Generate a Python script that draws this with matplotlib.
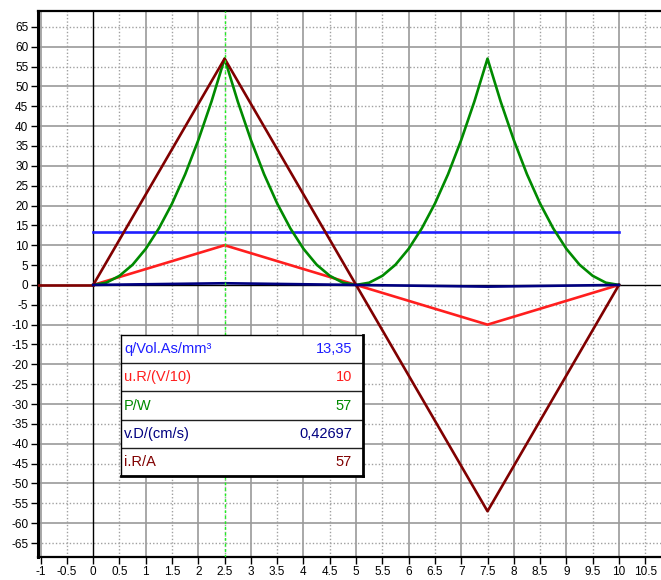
import matplotlib.pyplot as plt
from matplotlib.ticker import FixedLocator, FuncFormatter

plt.rcParams['font.family'] = ['Liberation Sans', 'DejaVu Sans']

# time axis breakpoints (one full period)
t_lin = [0, 2.5, 5, 7.5, 10]

# i.R/A : triangular current
i_R = [0, 57, 0, -57, 0]
# u.R/(V/10)
u_R = [0, 10, 0, -10, 0]
# v.D/(cm/s)
v_D = [0, 0.42697, 0, -0.42697, 0]
# q/Vol.As/mm³ (constant)
q_t = [0, 10]
q_vol = [13.35, 13.35]
# before t = 0 everything is at rest
t_rest = [-1.1, 0]
i_rest = [0, 0]

# P/W sampled every 0.25
t_p = [0, 0.25, 0.5, 0.75, 1.0, 1.25, 1.5, 1.75, 2.0, 2.25, 2.5,
       2.75, 3.0, 3.25, 3.5, 3.75, 4.0, 4.25, 4.5, 4.75, 5.0,
       5.25, 5.5, 5.75, 6.0, 6.25, 6.5, 6.75, 7.0, 7.25, 7.5,
       7.75, 8.0, 8.25, 8.5, 8.75, 9.0, 9.25, 9.5, 9.75, 10.0]
p_w = [0, 0.57, 2.3, 5.1, 9.1, 14.25, 20.5, 27.9, 36.5, 46.2, 57,
       46.2, 36.5, 27.9, 20.5, 14.25, 9.1, 5.1, 2.3, 0.57, 0,
       0.57, 2.3, 5.1, 9.1, 14.25, 20.5, 27.9, 36.5, 46.2, 57,
       46.2, 36.5, 27.9, 20.5, 14.25, 9.1, 5.1, 2.3, 0.57, 0]

cursor_t = 2.5

rows = ['q/Vol.As/mm³', 'u.R/(V/10)', 'P/W', 'v.D/(cm/s)', 'i.R/A']
row_vals = ['13,35', '10', '57', '0,42697', '57']

C_Q = '#1e1eff'
C_U = '#ff1e1e'
C_P = '#008a00'
C_V = '#000080'
C_I = '#800000'
row_colors = [C_Q, C_U, C_P, C_V, C_I]

W, H = 661, 580
fig = plt.figure(figsize=(W / 100, H / 100), dpi=100)
ax = fig.add_axes([38 / W, 1 - 556.5 / H, 1 - 38 / W, (556.5 - 11) / H])

xmin, xmax = -1.05, 10.8
ymin, ymax = -68.4, 69.0
ax.set_xlim(xmin, xmax)
ax.set_ylim(ymin, ymax)

xt = [x / 2 for x in range(-2, 22)]
yt = list(range(-65, 70, 5))

# grid: full units / tens solid, halves / fives dotted
for x in xt:
    if x == 0:
        continue
    if x == int(x):
        ax.axvline(x, color='#9a9a9a', lw=1.2, zorder=0)
    else:
        ax.axvline(x, color='#a0a0a0', lw=1.0, ls=(0, (1, 1.5)), zorder=0)
for y in yt:
    if y == 0:
        continue
    if y % 10 == 0:
        ax.axhline(y, color='#9a9a9a', lw=1.2, zorder=0)
    else:
        ax.axhline(y, color='#a0a0a0', lw=1.0, ls=(0, (1, 1.5)), zorder=0)
ax.axhline(0, color='black', lw=1.0, zorder=1)
ax.axvline(0, color='black', lw=1.0, zorder=1)

lw = 1.9
ax.plot(q_t, q_vol, color=C_Q, lw=lw, zorder=3)
ax.plot(t_lin, u_R, color=C_U, lw=lw, zorder=3)
ax.plot(t_p, p_w, color=C_P, lw=lw, zorder=4)
ax.plot(t_rest, i_rest, color=C_I, lw=lw, zorder=5)
ax.plot(t_lin, i_R, color=C_I, lw=lw, zorder=5)
ax.plot(t_lin, v_D, color=C_V, lw=lw, zorder=6)

ax.axvline(cursor_t, color='#20f020', lw=1.0, ls=(0, (2, 2)), zorder=7)

ax.xaxis.set_major_locator(FixedLocator(xt))
ax.yaxis.set_major_locator(FixedLocator(yt))
fmt = FuncFormatter(lambda v, p: f'{v:g}')
ax.xaxis.set_major_formatter(fmt)
ax.yaxis.set_major_formatter(fmt)
ax.tick_params(direction='out', length=5, width=1, pad=2, labelsize=8.5,
               colors='black')

for side in ['left', 'top', 'bottom']:
    ax.spines[side].set_color('black')
    ax.spines[side].set_linewidth(1.6)
ax.spines['left'].set_linewidth(2.2)
ax.spines['right'].set_visible(False)

# value table
tb = fig.add_axes([121 / W, 1 - 476 / H, (363 - 121) / W, (476 - 335) / H])
tb.set_xlim(0, 1)
tb.set_ylim(0, 5)
tb.set_xticks([])
tb.set_yticks([])
tb.set_facecolor('white')
for k in range(1, 5):
    tb.axhline(k, color='#202020', lw=1.0)
for side in tb.spines:
    tb.spines[side].set_color('black')
tb.spines['left'].set_linewidth(1.0)
tb.spines['top'].set_linewidth(1.0)
tb.spines['right'].set_linewidth(2.0)
tb.spines['bottom'].set_linewidth(2.0)
for k, (name, val, col) in enumerate(zip(rows, row_vals, row_colors)):
    yc = 4.5 - k
    tb.text(0.012, yc, name, color=col, fontsize=10.5, va='center', ha='left')
    tb.text(0.955, yc, val, color=col, fontsize=10.5, va='center', ha='right')

fig.savefig('out.png', dpi=100)
